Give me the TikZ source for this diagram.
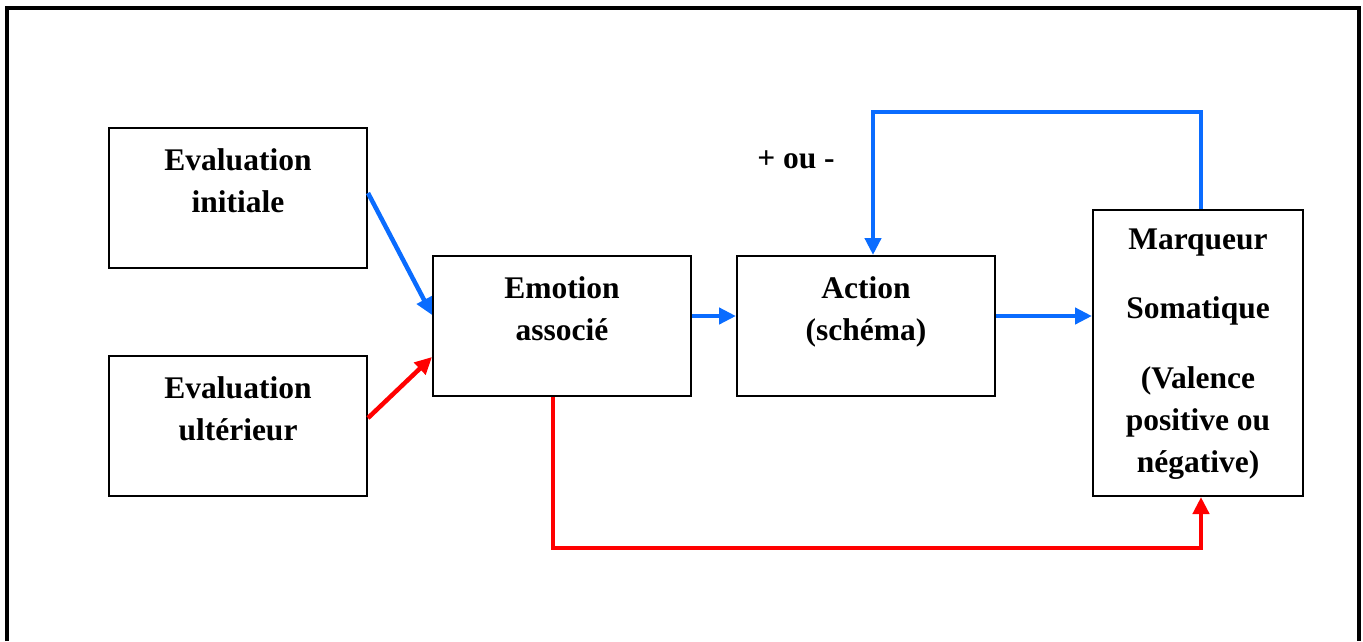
\documentclass[tikz,border=0pt]{standalone}
\usepackage{fontspec}
\setmainfont{Liberation Serif}
\usepackage{xcolor}
\usetikzlibrary{arrows.meta, positioning, calc}
\definecolor{ArrowBlue}{HTML}{0A6CFF}
\definecolor{ArrowRed}{HTML}{FF0000}
\begin{document}
\begin{tikzpicture}[
    x=1pt, y=-1pt,
    >={Triangle[length=17pt, width=16pt]},
    block/.style={
        draw=black,
        line width=2pt,
        minimum width=258pt,
        minimum height=140pt,
        inner sep=0pt
    },
    blocktext/.style={
        anchor=base,
        align=center,
        inner sep=0pt,
        font=\bfseries\fontsize{31.5}{42}\selectfont
    },
    bluelink/.style={
        draw=ArrowBlue,
        line width=4.5pt,
        ->
    },
    redlink/.style={
        draw=ArrowRed,
        line width=4.5pt,
        ->
    }
]
\useasboundingbox (0,0) rectangle (1363,641);
\draw[line width=4.5pt] (7,641) -- (7,8) -- (1359,8) -- (1359,641);

\node[block] (EvalInit) at (238,198) {};
\node[blocktext] (EvalInitText) at ([yshift=-85pt]EvalInit.north) {Evaluation\\initiale};

\node[block] (EvalUlt) at (238,426) {};
\node[blocktext] (EvalUltText) at ([yshift=-85pt]EvalUlt.north) {Evaluation\\ultérieur};

\node[block] (Emotion) at (562,326) {};
\node[blocktext] (EmotionText) at ([yshift=-85pt]Emotion.north) {Emotion\\associé};

\node[block] (Action) at (866,326) {};
\node[blocktext] (ActionText) at ([yshift=-85pt]Action.north) {Action\\(schéma)};

\node[block, minimum width=210pt, minimum height=286pt] (Marqueur) at (1198,353) {};
\node[blocktext] (MarqueurText) at ([yshift=-263pt]Marqueur.north) {Marqueur\\[27pt]Somatique\\[28pt](Valence\\positive ou\\négative)};

\node[blocktext] (Signe) at (796,168) {+ ou -};

\coordinate (FbTop) at (873,112);
\coordinate (FbBottom) at (553,548);

\draw[bluelink] ([yshift=5pt]EvalInit.east) -- ([yshift=11pt]Emotion.west);
\draw[redlink] ([yshift=8pt]EvalUlt.east) -- ([yshift=-31pt]Emotion.west);
\draw[bluelink] ([yshift=10pt]Emotion.east) -- ([yshift=10pt]Action.west);
\draw[bluelink] ([yshift=10pt]Action.east) -- ([yshift=10pt]Action.east -| Marqueur.west);
\draw[bluelink] ([xshift=3pt]Marqueur.north) |- (FbTop) -- (FbTop |- Action.north);
\draw[redlink] (FbBottom |- Emotion.south) -- (FbBottom) -| ([xshift=3pt]Marqueur.south);

\end{tikzpicture}
\end{document}
